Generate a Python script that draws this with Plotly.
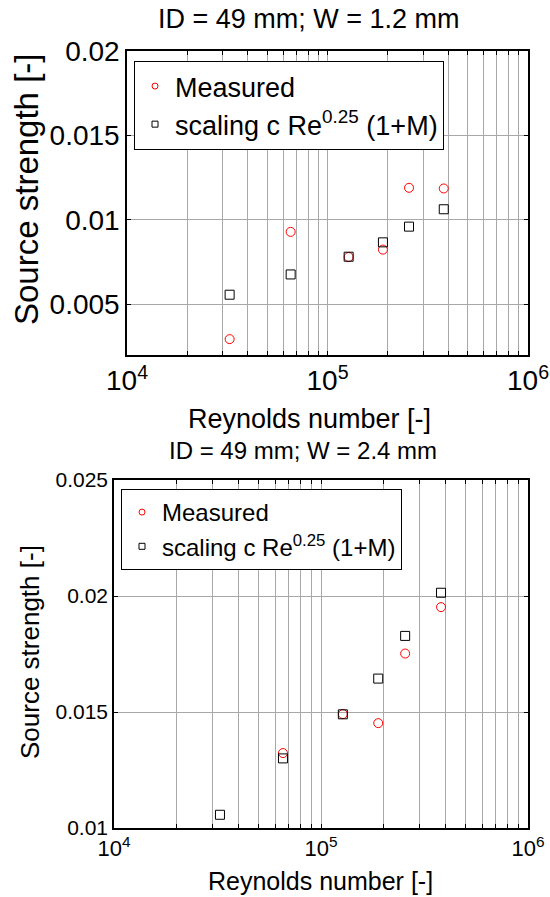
import plotly.graph_objects as go

# Reynolds numbers of the test points (shared by both slit widths)
reynolds = [32500, 65500, 127500, 189000, 255000, 380000]

# W = 1.2 mm
measured_w12 = [0.00294, 0.00929, 0.00780, 0.00824, 0.01190, 0.01186]
scaling_w12 = [0.00557, 0.00677, 0.00782, 0.00867, 0.00960, 0.01063]

# W = 2.4 mm (the lowest-Re measurement lies below the plotted range)
measured_w24 = [0.00950, 0.01323, 0.01491, 0.01452, 0.01752, 0.01952]
scaling_w24 = [0.01057, 0.01300, 0.01490, 0.01644, 0.01828, 0.02014]

# Axis ticks
x_decades = [1e4, 1e5, 1e6]
x_decade_labels = ["10<sup>4</sup>", "10<sup>5</sup>", "10<sup>6</sup>"]
y_ticks_w12 = [0.005, 0.01, 0.015, 0.02]
y_labels_w12 = ["0.005", "0.01", "0.015", "0.02"]
y_ticks_w24 = [0.01, 0.015, 0.02, 0.025]
y_labels_w24 = ["0.01", "0.015", "0.02", "0.025"]

titles = ["ID = 49 mm; W = 1.2 mm", "ID = 49 mm; W = 2.4 mm"]
x_title = "Reynolds number [-]"
y_title = "Source strength [-]"
legend_names = ["Measured", "scaling c Re<sup>0.25</sup> (1+M)"]

FONT = "Liberation Sans, Arial, sans-serif"
W, H = 550, 897

# log-x positions for every major and minor grid line
x_grid = []
x_grid_text = []
for i, d in enumerate(x_decades[:-1]):
    for k in range(1, 10):
        x_grid.append(k * d)
        x_grid_text.append(x_decade_labels[i] if k == 1 else "")
x_grid.append(x_decades[-1])
x_grid_text.append(x_decade_labels[-1])

fig = go.Figure()

panels = [
    dict(xa="x", ya="y", meas=measured_w12, scal=scaling_w12, legend="legend"),
    dict(xa="x2", ya="y2", meas=measured_w24, scal=scaling_w24, legend="legend2"),
]

for p in panels:
    fig.add_trace(go.Scatter(
        x=reynolds, y=p["meas"], mode="markers", xaxis=p["xa"], yaxis=p["ya"],
        marker=dict(symbol="circle-open", size=9, color="#ff0000", line=dict(width=1)),
        showlegend=False, cliponaxis=True))
    fig.add_trace(go.Scatter(
        x=reynolds, y=p["scal"], mode="markers", xaxis=p["xa"], yaxis=p["ya"],
        marker=dict(symbol="square-open", size=9, color="#000000", line=dict(width=1)),
        showlegend=False, cliponaxis=True))
    # legend entries with the small MATLAB-style legend markers
    fig.add_trace(go.Scatter(
        x=[None], y=[None], mode="markers", xaxis=p["xa"], yaxis=p["ya"],
        name=legend_names[0], legend=p["legend"],
        marker=dict(symbol="circle-open", size=6, color="#ff0000", line=dict(width=1))))
    fig.add_trace(go.Scatter(
        x=[None], y=[None], mode="markers", xaxis=p["xa"], yaxis=p["ya"],
        name=legend_names[1], legend=p["legend"],
        marker=dict(symbol="square-open", size=6, color="#000000", line=dict(width=1))))

grid = dict(showgrid=True, gridcolor="#a8a8a8", gridwidth=1,
            showline=True, linecolor="black", linewidth=1.5, mirror="ticks",
            ticks="inside", ticklen=4, tickcolor="black", zeroline=False,
            automargin=False)

def xaxis(domain, fs, anchor):
    return dict(type="log", range=[4, 6], domain=domain, anchor=anchor,
                tickmode="array", tickvals=x_grid, ticktext=x_grid_text,
                tickfont=dict(family=FONT, size=fs, color="black"), **grid)

def yaxis(domain, rng, tv, tt, fs, anchor):
    return dict(range=rng, domain=domain, anchor=anchor,
                tickmode="array", tickvals=tv, ticktext=tt,
                tickfont=dict(family=FONT, size=fs, color="black"), **grid)

def dom_x(a, b):
    return [a / W, b / W]

def dom_y(top, bottom):
    return [1 - bottom / H, 1 - top / H]

fig.update_layout(
    width=W, height=H, autosize=False,
    margin=dict(l=0, r=0, t=0, b=0, autoexpand=False),
    paper_bgcolor="white", plot_bgcolor="white",
    font=dict(family=FONT, color="black"),
    xaxis=xaxis(dom_x(127, 528), 28, "y"),
    yaxis=yaxis(dom_y(51, 355), [0.002, 0.02], y_ticks_w12, y_labels_w12, 28, "x"),
    xaxis2=xaxis(dom_x(114, 528), 22, "y2"),
    yaxis2=yaxis(dom_y(480, 828), [0.01, 0.025], y_ticks_w24, y_labels_w24, 21, "x2"),
    legend=dict(x=134 / W, y=1 - 61 / H, xanchor="left", yanchor="top",
                bgcolor="white", bordercolor="black", borderwidth=1,
                font=dict(family=FONT, size=27, color="black"),
                itemsizing="trace", tracegroupgap=0),
    legend2=dict(x=121 / W, y=1 - 489 / H, xanchor="left", yanchor="top",
                 bgcolor="white", bordercolor="black", borderwidth=1,
                 font=dict(family=FONT, size=24, color="black"),
                 itemsizing="trace", tracegroupgap=0),
)

annotations = [
    dict(text=titles[0], x=309 / W, y=1 - 19 / H, size=27),
    dict(text=x_title, x=309 / W, y=1 - 419 / H, size=27),
    dict(text=y_title, x=27 / W, y=1 - 190 / H, size=33, angle=-90),
    dict(text=titles[1], x=303 / W, y=1 - 451 / H, size=24),
    dict(text=x_title, x=320 / W, y=1 - 881 / H, size=25),
    dict(text=y_title, x=30 / W, y=1 - 652 / H, size=26, angle=-90),
]
for a in annotations:
    fig.add_annotation(xref="paper", yref="paper", showarrow=False,
                       xanchor="center", yanchor="middle",
                       font=dict(family=FONT, color="black", size=a["size"]),
                       text=a["text"], x=a["x"], y=a["y"],
                       textangle=a.get("angle", 0))

fig.write_html("out.html")
